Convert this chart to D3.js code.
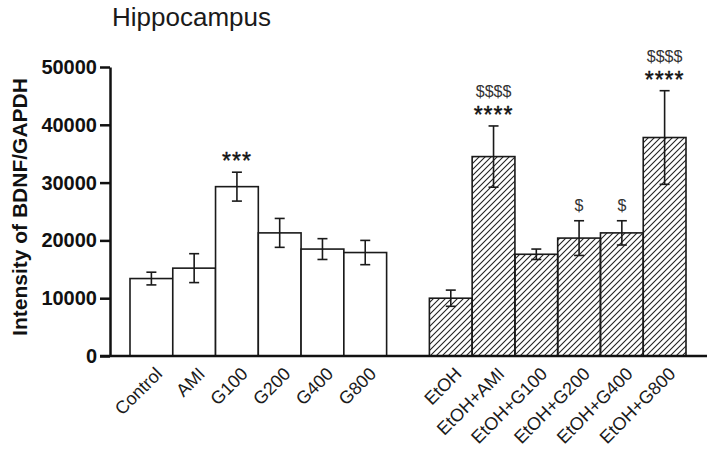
<!DOCTYPE html>
<head>
<meta charset="utf-8">
<title>Hippocampus BDNF</title>
<style>
html, body { margin:0; padding:0; background:#fff; overflow:hidden; }
svg { display:block; font-family: "Liberation Sans", Arial, sans-serif; }
</style>
</head>
<body>
<svg id="stage" width="713" height="459"></svg>
<script src="https://cdn.jsdelivr.net/npm/d3@7"></script>
<script>

// group 1: plain bars, group 2: ethanol (hatched)
var groupA = ["Control", "AMI", "G100", "G200", "G400", "G800"];
var groupB = ["EtOH", "EtOH+AMI", "EtOH+G100", "EtOH+G200", "EtOH+G400", "EtOH+G800"];
var meansA = [13400, 15200, 29300, 21300, 18500, 17900];
var errsA  = [1100, 2500, 2500, 2500, 1800, 2100];
var meansB = [10000, 34500, 17600, 20400, 21300, 37800];
var errsB  = [1400, 5300, 900, 3000, 2100, 8100];
var starsB = ["", "****", "", "", "", "****"];
var starsA = ["", "", "***", "", "", ""];
var dollarsB = ["", "$$$$", "", "$", "$", "$$$$"];
var yTicks = [0, 10000, 20000, 30000, 40000, 50000];

var svg = d3.select("#stage");

var rows = groupA.map(function(c, i) {
  return { name: c, mean: meansA[i], err: errsA[i], stars: starsA[i], dollars: "", hatch: false };
}).concat(groupB.map(function(c, i) {
  return { name: c, mean: meansB[i], err: errsB[i], stars: starsB[i], dollars: dollarsB[i], hatch: true };
}));

var x = d3.scaleBand()
    .domain(groupA.concat(["_gap"], groupB))
    .range([130, 686])
    .padding(0);

var y = d3.scaleLinear()
    .domain([0, 50000])
    .range([356, 67]);

// hatch pattern "/"
var defs = svg.append("defs");
defs.append("pattern")
    .attr("id", "hatch")
    .attr("patternUnits", "userSpaceOnUse")
    .attr("width", 6).attr("height", 6)
  .append("path")
    .attr("d", "M-1,1 l2,-2 M0,6 l6,-6 M5,7 l2,-2")
    .attr("stroke", "#222")
    .attr("stroke-width", 1.1);

// title
svg.append("text")
    .attr("x", 112).attr("y", 26)
    .attr("font-size", 26)
    .attr("fill", "#1a1a1a")
    .text("Hippocampus");

// y label
svg.append("text")
    .attr("transform", "translate(27,207) rotate(-90)")
    .attr("text-anchor", "middle")
    .attr("font-size", 21)
    .attr("font-weight", "bold")
    .attr("fill", "#111")
    .text("Intensity of BDNF/GAPDH");

// bars
svg.selectAll("rect.bar")
  .data(rows)
  .enter().append("rect")
    .attr("class", "bar")
    .attr("x", function(d) { return x(d.name); })
    .attr("y", function(d) { return y(d.mean); })
    .attr("width", x.bandwidth())
    .attr("height", function(d) { return y(0) - y(d.mean); })
    .attr("fill", function(d) { return d.hatch ? "url(#hatch)" : "#fff"; })
    .attr("stroke", "#1a1a1a")
    .attr("stroke-width", 1.6);

// error bars
var eb = svg.selectAll("g.err")
  .data(rows)
  .enter().append("g")
    .attr("class", "err")
    .attr("stroke", "#1a1a1a")
    .attr("stroke-width", 1.6);

eb.append("line")
    .attr("x1", function(d) { return x(d.name) + x.bandwidth() / 2; })
    .attr("x2", function(d) { return x(d.name) + x.bandwidth() / 2; })
    .attr("y1", function(d) { return y(d.mean - d.err); })
    .attr("y2", function(d) { return y(d.mean + d.err); });

[1, -1].forEach(function(s) {
  eb.append("line")
      .attr("x1", function(d) { return x(d.name) + x.bandwidth() / 2 - 5; })
      .attr("x2", function(d) { return x(d.name) + x.bandwidth() / 2 + 5; })
      .attr("y1", function(d) { return y(d.mean + s * d.err); })
      .attr("y2", function(d) { return y(d.mean + s * d.err); });
});

// significance marks
svg.selectAll("text.stars")
  .data(rows.filter(function(d) { return d.stars; }))
  .enter().append("text")
    .attr("class", "stars")
    .attr("x", function(d) { return x(d.name) + x.bandwidth() / 2; })
    .attr("y", function(d) { return y(d.mean + d.err) - 3; })
    .attr("text-anchor", "middle")
    .attr("font-size", 23)
    .attr("fill", "#111")
    .attr("stroke", "#111")
    .attr("stroke-width", 0.4)
    .attr("letter-spacing", 1)
    .text(function(d) { return d.stars; });

svg.selectAll("text.dollars")
  .data(rows.filter(function(d) { return d.dollars; }))
  .enter().append("text")
    .attr("class", "dollars")
    .attr("x", function(d) { return x(d.name) + x.bandwidth() / 2; })
    .attr("y", function(d) { return y(d.mean + d.err) - (d.stars ? 29 : 10); })
    .attr("text-anchor", "middle")
    .attr("font-size", 16)
    .attr("fill", "#333")
    .text(function(d) { return d.dollars; });

// y axis
var yAxis = svg.append("g")
    .attr("transform", "translate(110,0)")
    .call(d3.axisLeft(y).tickValues(yTicks).tickSize(10).tickSizeOuter(0).tickPadding(3).tickFormat(d3.format("d")));
yAxis.selectAll("path, line").attr("stroke", "#111").attr("stroke-width", 2.5);
yAxis.selectAll("text")
    .attr("font-size", 20)
    .attr("font-weight", "bold")
    .attr("font-family", "Liberation Sans, Arial, sans-serif")
    .attr("fill", "#111");

// x axis baseline
svg.append("line")
    .attr("x1", 100).attr("x2", 707)
    .attr("y1", y(0)).attr("y2", y(0))
    .attr("stroke", "#111")
    .attr("stroke-width", 2.5);

// x labels
svg.selectAll("text.xlab")
  .data(rows)
  .enter().append("text")
    .attr("class", "xlab")
    .attr("transform", function(d) {
      return "translate(" + (x(d.name) + x.bandwidth() / 2 + 12) + "," + (y(0) + 19) + ") rotate(-45)";
    })
    .attr("text-anchor", "end")
    .attr("font-size", 18)
    .attr("fill", "#1a1a1a")
    .text(function(d) { return d.name; });

</script>
